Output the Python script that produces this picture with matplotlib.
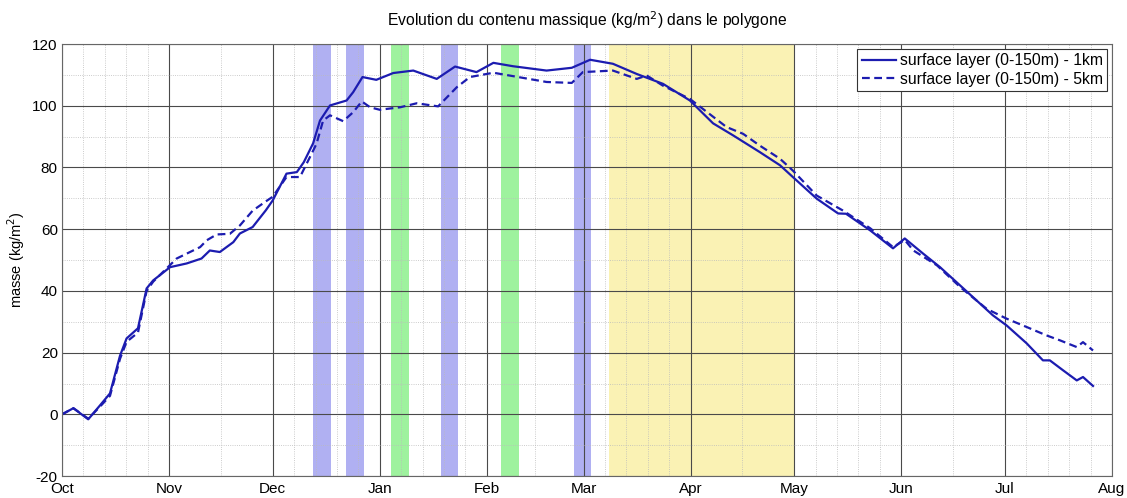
import numpy as np
import matplotlib
matplotlib.use('Agg')
import matplotlib.pyplot as plt
from matplotlib.ticker import FixedLocator

plt.rcParams['font.family'] = ['Liberation Sans', 'DejaVu Sans']
plt.rcParams['axes.unicode_minus'] = False

# Mois de la saison (jours depuis le 1er octobre)
mois = ['Oct', 'Nov', 'Dec', 'Jan', 'Feb', 'Mar', 'Apr', 'May', 'Jun', 'Jul', 'Aug']
jours_mois = [31, 30, 31, 31, 28, 31, 30, 31, 30, 31]

# Contenu massique - couche de surface, resolution 1km
jour_1km = [0, 3.3, 7.6, 11, 13.9, 16.8, 18.7, 22, 24.5, 26.4, 31.3, 36.1, 40.4, 42.8,
            45.7, 49.6, 51.5, 55.2, 59, 61, 65, 68, 70, 72.7, 74.7, 77.6, 82.4, 84.3,
            87, 91, 95.9, 101.7, 108.5, 113.8, 120, 124.9, 130.6, 140.3, 147.6, 152.9,
            159.5, 166.4, 174, 181.8, 188.5, 194.3, 202, 207.9, 211.6, 218.5, 224.7,
            227, 234, 240.6, 244, 249.3, 254.2, 260, 264.8, 269.5, 273.5, 279.3, 284,
            286, 289.8, 293.8, 295.6, 298.5]
masse_1km = [0, 2.0, -1.6, 2.9, 6.8, 19, 24.6, 27.9, 40.8, 43.4, 47.7, 48.9, 50.5, 53.1,
             52.6, 55.8, 58.6, 60.7, 66.1, 69.3, 78, 78.5, 81.7, 87.8, 95.2, 100.1, 101.7,
             104.4, 109.3, 108.4, 110.6, 111.4, 108.7, 112.7, 110.9, 113.9, 112.8, 111.4,
             112.3, 114.9, 113.6, 110.3, 107.1, 101.7, 94.3, 90.4, 85, 80.7, 76.9, 69.9,
             65.1, 65, 59.6, 53.8, 57, 52.1, 47.7, 41.8, 36.9, 32.1, 28.8, 23, 17.5, 17.5,
             14.3, 11, 12.1, 9.2]

# Contenu massique - couche de surface, resolution 5km
jour_5km = [0, 3.3, 7.6, 11, 13.9, 16.8, 18.7, 22, 24.5, 26.4, 33.2, 40, 41.9, 44.8,
            48.6, 51.5, 55.2, 59, 61, 65, 68.9, 71.8, 73.7, 75.6, 77.6, 81.4, 84.3, 86.8,
            89.2, 92, 97.9, 102.7, 108.9, 114.3, 118.1, 124.9, 140.3, 147.6, 150.8,
            159.5, 166.4, 169.3, 174, 181.8, 192.4, 197.2, 202, 207.9, 211.6, 218.5,
            226, 234, 240.6, 244, 246.5, 253.3, 260, 267.7, 273.5, 279.3, 285, 288.9,
            293.8, 295.6, 298.5]
masse_5km = [0, 2.0, -1.4, 2.5, 6.0, 18, 23.5, 26.5, 40.0, 43.0, 50.5, 54.2, 56.4, 58.3,
             58.5, 61.2, 66.0, 69.0, 70.5, 76.9, 76.9, 83.4, 87.7, 95.2, 96.9, 95, 97.9,
             101.4, 99.5, 98.7, 99.5, 100.8, 99.8, 106, 109.3, 110.7, 107.7, 107.4, 110.9,
             111.4, 108.7, 109.8, 106.5, 102.2, 93.1, 90.9, 87.1, 82.8, 79, 70.9, 66.1,
             60.3, 54.2, 56.5, 53.1, 48.3, 41.3, 34.2, 31, 28.3, 25.6, 24, 21.8, 23.4, 20.7]

# Periodes mises en evidence (debut, fin en jours) et leurs couleurs
bandes_debut = [72.7, 82.2, 95.4, 109.7, 127.1, 148.1, 158.4]
bandes_fin = [77.8, 87.3, 100.5, 114.7, 132.3, 153.2, 212.0]
bandes_couleur = ['#b0b0f2', '#b0b0f2', '#9ef29e', '#b0b0f2', '#9ef29e', '#b0b0f2', '#faf2b4']

debuts = np.concatenate([[0], np.cumsum(jours_mois)])

# graduations secondaires : 5 par mois de 31 jours, 2 sinon
mineurs = []
for d, n in zip(debuts[:-1], jours_mois):
    k = 5 if n == 31 else 2
    mineurs += [d + n * i / k for i in range(1, k)]

fig = plt.figure(figsize=(11.27, 4.98), dpi=100)
ax = fig.add_axes([0.055, 0.044, 0.9317, 0.8676])

for d0, d1, c in zip(bandes_debut, bandes_fin, bandes_couleur):
    ax.axvspan(d0, d1, color=c, lw=0, zorder=0.2)

bleu = '#1c1cb0'
ax.plot(jour_1km, masse_1km, '-', color=bleu, lw=1.6, label='surface layer (0-150m) - 1km')
ax.plot(jour_5km, masse_5km, '--', color=bleu, lw=1.6, dashes=(3.5, 2),
        label='surface layer (0-150m) - 5km')

ax.set_xlim(0, debuts[-1])
ax.set_ylim(-20, 120)
ax.set_xticks(debuts)
ax.set_xticklabels(mois)
ax.xaxis.set_minor_locator(FixedLocator(mineurs))
ax.set_yticks(np.arange(-20, 121, 20))
ax.yaxis.set_minor_locator(FixedLocator(np.arange(-10, 120, 20)))

ax.set_axisbelow(True)
ax.grid(which='major', color='#4a4a4a', lw=0.8)
ax.grid(which='minor', color='#bbbbbb', lw=0.6, ls=':')
ax.tick_params(which='both', direction='in', length=0, labelsize=11, pad=3)
ax.tick_params(axis='x', pad=4)
for s in ax.spines.values():
    s.set_color('#666666')
    s.set_linewidth(0.8)

ax.set_ylabel('masse (kg/m$^2$)', fontsize=10.5, labelpad=4)
ax.set_title('Evolution du contenu massique (kg/m$^2$) dans le polygone', fontsize=11.3, pad=13)

leg = ax.legend(loc='upper right', fontsize=11.3, handlelength=2.2, handletextpad=0.2,
                borderpad=0.3, labelspacing=0.2, fancybox=False, framealpha=1,
                borderaxespad=0.3)
leg.get_frame().set_edgecolor('#333333')
leg.get_frame().set_linewidth(0.8)

fig.savefig('out.png', dpi=100)
